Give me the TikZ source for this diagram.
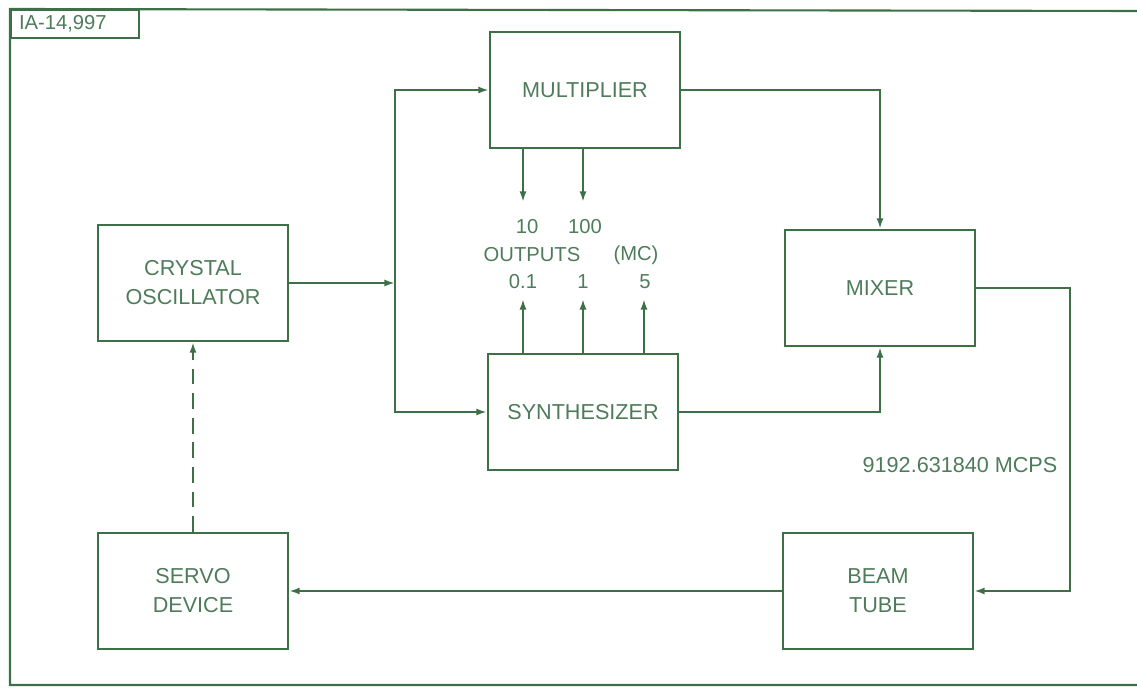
\documentclass[tikz,border=0pt]{standalone}
\usepackage{fontspec}
\setmainfont{Liberation Sans}
\usetikzlibrary{arrows.meta}
\definecolor{ink}{RGB}{62,112,72}
\definecolor{inktext}{RGB}{78,124,90}

\begin{document}
\begin{tikzpicture}[
        x=0.02cm, y=-0.02cm,
        font=\fontsize{12.3}{14.5}\selectfont,
        line width=1.2pt, draw=ink, text=inktext,
        blk/.style={draw=ink, align=center, inner sep=0pt,
                    minimum width=3.8cm, minimum height=2.32cm},
        arr/.style={-{Latex[length=6pt,width=4pt]}, ink},
        lbl/.style={inner sep=0pt, font=\fontsize{11.5}{13}\selectfont}
      ]
        \useasboundingbox (0,0) rectangle (1137,688);

        \draw[ink] (1137,11) -- (10,9) -- (10,685) -- (1137,685);
        \node[draw=ink, anchor=north west, minimum width=2.56cm,
              minimum height=0.56cm, text width=2.24cm, align=left,
              inner xsep=0.16cm, inner ysep=0pt,
              font=\fontsize{11.5}{13}\selectfont]
          (tag) at (10,9) {IA-14,997};

        \node[blk] (mult) at (585,90) {MULTIPLIER};
        \node[blk] (xtal) at (193,283) {CRYSTAL\\[2pt]OSCILLATOR};
        \node[blk] (mix) at (880,288) {MIXER};
        \node[blk] (synth) at (583,412) {SYNTHESIZER};
        \node[blk] (servo) at (193,591) {SERVO\\[2pt]DEVICE};
        \node[blk] (beam) at (878,591) {BEAM\\[2pt]TUBE};

        \coordinate (split) at (395,283);
        \draw[arr] (xtal.east) -- (split);
        \draw[arr] (split) |- (mult.west);
        \draw[arr] (split) |- (synth.west);
        \draw[arr] (mult.east) -| (mix.north);
        \draw[arr] (synth.east) -| (mix.south);
        \draw[arr] (mix.east) -- ++(94,0) |- (beam.east);
        \draw[arr] (beam.west) -- (servo.east);
        \draw[arr, dashed, dash pattern=on 9pt off 5pt] (servo.north) -- (xtal.south);

        % frequency outputs
        \coordinate (m10) at (523,202);
        \coordinate (m100) at (583,202);
        \coordinate (s01) at (523,299);
        \coordinate (s1) at (583,299);
        \coordinate (s5) at (644,299);
        \draw[arr] (mult.south -| m10) -- (m10);
        \draw[arr] (mult.south -| m100) -- (m100);
        \draw[arr] (synth.north -| s01) -- (s01);
        \draw[arr] (synth.north -| s1) -- (s1);
        \draw[arr] (synth.north -| s5) -- (s5);

        \node[lbl] (l10) at (527,227) {10};
        \node[lbl] (l100) at (585,227) {100};
        \node[lbl] (lout) at (532,255) {OUTPUTS};
        \node[lbl] (lmc) at (636,255) {(MC)};
        \node[lbl] (l01) at (523,282) {0.1};
        \node[lbl] (l1) at (583,282) {1};
        \node[lbl] (l5) at (645,282) {5};

        \node[inner sep=0pt] (freq) at (960,465) {9192.631840 MCPS};
      \end{tikzpicture}
\end{document}
